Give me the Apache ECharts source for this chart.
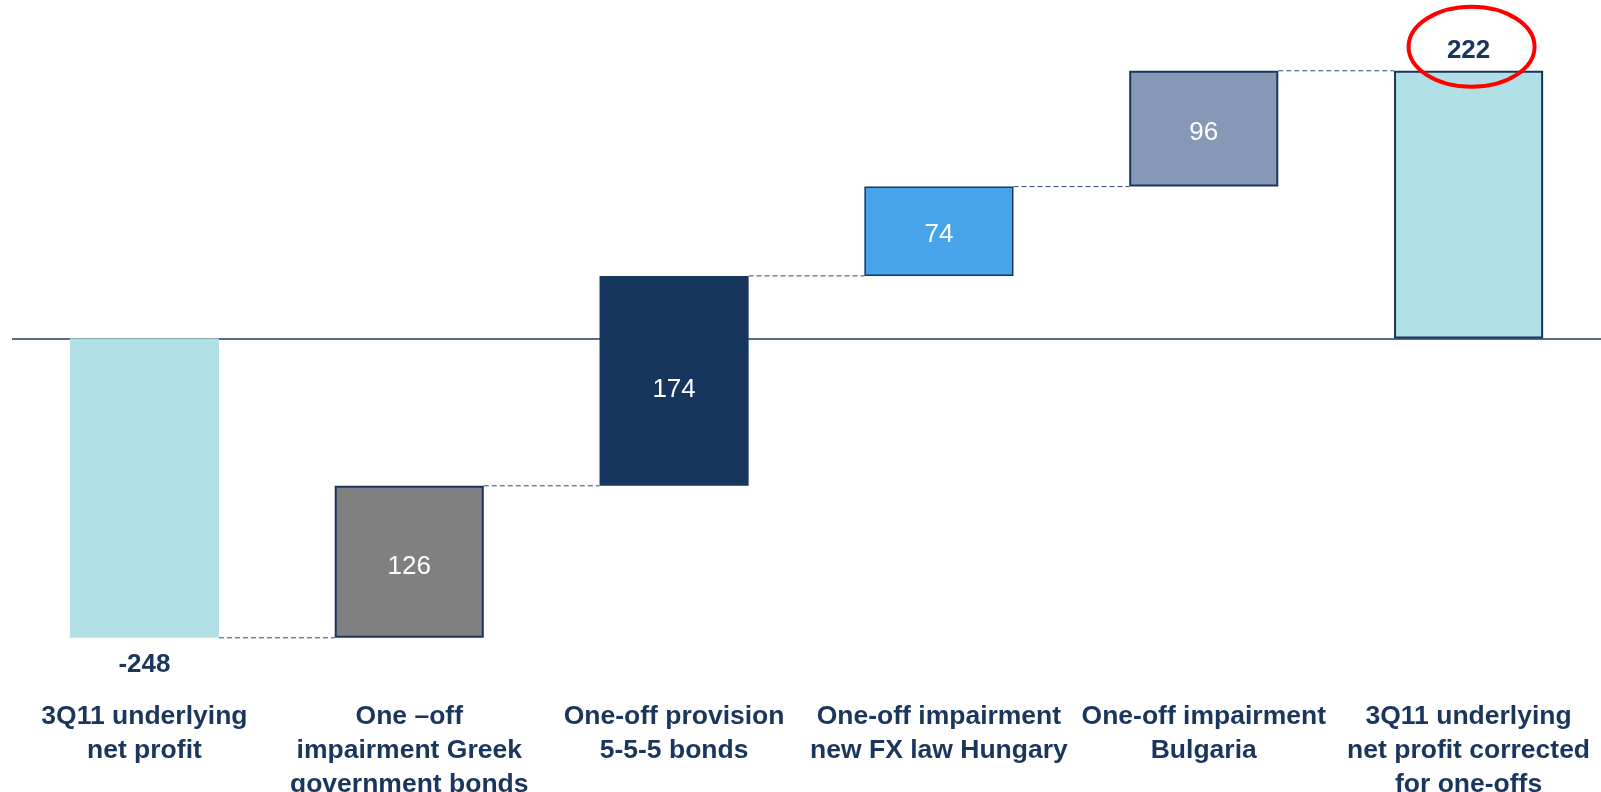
<!DOCTYPE html>
<html>
<head>
<meta charset="utf-8">
<script src="https://cdn.jsdelivr.net/npm/echarts@6/dist/echarts.min.js"></script>
<style>
  html, body { margin: 0; padding: 0; background: #ffffff; }
  #chart { width: 1601px; height: 792px; }
</style>
</head>
<body>
<div id="chart"></div>
<script>
// ---- data ----
const categories = [
  "3Q11 underlying\nnet profit",
  "One \u2013off\nimpairment Greek\ngovernment bonds",
  "One-off provision\n5-5-5 bonds",
  "One-off impairment\nnew FX law Hungary",
  "One-off impairment\nBulgaria",
  "3Q11 underlying\nnet profit corrected\nfor one-offs"
];
const baseValues = [0, -248, -122, 52, 126, 0];     // invisible offsets
const barValues  = [-248, 126, 174, 74, 96, 222];   // visible steps
const connectorLevels = [-248, -122, 52, 126, 222]; // level between bar i and i+1
const highlightIndex = 5;
const highlightValue = 222;

// ---- styles ----
const navy = '#17365D';
const textColor = '#1B365D';
const barColors = ['#B0DFE5', '#808080', '#17365D', '#47A4EB', '#8798B7', '#B0DFE5'];
const borderWidths = [0, 2, 0, 1.5, 2, 2];
const innerLabelShift = [0, 5, 9, 4, 4, 0];
const barFrac = 0.563;
const font = '"Liberation Sans", Arial, sans-serif';

const chart = echarts.init(document.getElementById('chart'));

const visibleData = barValues.map((v, i) => {
  const item = {
    value: v,
    itemStyle: { color: barColors[i], borderColor: navy, borderWidth: borderWidths[i] }
  };
  if (i === 0) {
    item.label = { show: true, position: 'bottom', distance: 14, color: textColor, fontWeight: 'bold', fontSize: 26, fontFamily: font };
  } else if (i === barValues.length - 1) {
    item.label = { show: true, position: 'top', distance: 7, color: textColor, fontWeight: 'bold', fontSize: 26, fontFamily: font };
  } else {
    item.label = { show: true, position: 'inside', offset: [0, innerLabelShift[i]], color: '#ffffff', fontSize: 26, fontFamily: font };
  }
  return item;
});

const connectorData = connectorLevels.map((lv, i) => [i, lv]);

chart.setOption({
  animation: false,
  grid: { left: 12, right: 0, top: 37, bottom: 103.5, outerBoundsMode: 'none', containLabel: false },
  xAxis: {
    type: 'category',
    data: categories,
    axisLine: { show: false, onZero: false },
    axisTick: { show: false },
    axisLabel: {
      interval: 0,
      margin: 11,
      color: textColor,
      fontWeight: 'bold',
      fontSize: 26.5,
      lineHeight: 34,
      fontFamily: font
    }
  },
  yAxis: {
    type: 'value',
    min: -290,
    max: 250,
    show: false
  },
  series: [
    {
      name: 'base',
      type: 'bar',
      stack: 'wf',
      stackStrategy: 'all',
      barWidth: (barFrac * 100) + '%',
      itemStyle: { color: 'transparent' },
      emphasis: { disabled: true },
      data: baseValues
    },
    {
      name: 'value',
      type: 'bar',
      stack: 'wf',
      stackStrategy: 'all',
      barWidth: (barFrac * 100) + '%',
      emphasis: { disabled: true },
      data: visibleData,
      markLine: {
        silent: true,
        symbol: 'none',
        label: { show: false },
        lineStyle: { color: '#1F3A64', width: 1.5, type: 'solid' },
        data: [{ yAxis: 0 }],
        z: 1
      }
    },
    {
      name: 'connectors',
      type: 'custom',
      silent: true,
      z: 1,
      data: connectorData,
      renderItem: function (params, api) {
        const i = api.value(0);
        const lv = api.value(1);
        const p = api.coord([i, lv]);
        const band = api.size([1, 0])[0];
        const half = band * barFrac / 2;
        return {
          type: 'line',
          shape: { x1: p[0] + half, y1: p[1], x2: p[0] + band - half, y2: p[1] },
          style: { stroke: '#2E4A78', lineWidth: 1, lineDash: [5, 3] }
        };
      }
    },
    {
      name: 'highlight',
      type: 'custom',
      silent: true,
      z: 5,
      data: [[highlightIndex, highlightValue]],
      renderItem: function (params, api) {
        const p = api.coord([api.value(0), api.value(1)]);
        return {
          type: 'ellipse',
          shape: { cx: p[0] + 3, cy: p[1] - 24, rx: 63, ry: 40 },
          style: { fill: 'none', stroke: '#FF0000', lineWidth: 4 }
        };
      }
    }
  ]
});
</script>
</body>
</html>
